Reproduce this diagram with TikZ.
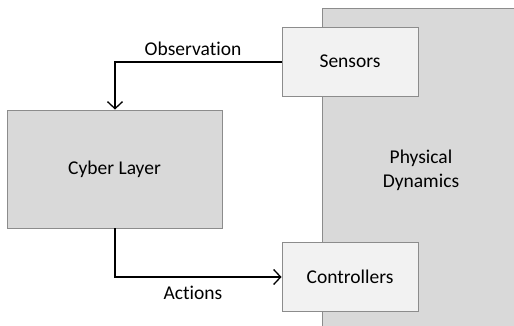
\documentclass[tikz,border=0pt]{standalone}
\usepackage{fontspec}
\setmainfont[Ligatures=NoCommon]{Carlito}
\usetikzlibrary{arrows.meta}
\definecolor{darkfill}{HTML}{D9D9D9}
\definecolor{lightfill}{HTML}{F2F2F2}
\definecolor{edge}{HTML}{8C8C8C}
\begin{document}
\begin{tikzpicture}[x=1pt,y=-1pt,
  txt/.style={font=\fontsize{19.5}{24}\selectfont},
  box/.style={draw=edge,line width=0.9pt,inner sep=0pt,txt,align=center},
  conn/.style={line width=1.3pt,-{Straight Barb[length=7pt,width=15pt,line width=1.3pt]}},
  lbl/.style={txt,fill=white,inner sep=1pt}]
\useasboundingbox (0,0) rectangle (514,326);
\node[box,fill=darkfill,minimum width=192pt,minimum height=320pt,anchor=north west] (phys) at (322,8) {};
\node[txt,align=center] (physlbl) at (421,170) {Physical\\Dynamics};
\node[box,fill=lightfill,minimum width=136pt,minimum height=69pt] (sens) at (350,61.5) {Sensors};
\node[box,fill=lightfill,minimum width=136pt,minimum height=69pt] (ctrl) at (350,276.5) {Controllers};
\node[box,fill=darkfill,minimum width=215pt,minimum height=118pt] (cyber) at (114.5,169) {Cyber Layer};
\coordinate (c1) at (115,62);
\coordinate (c2) at (115,277);
\draw[conn] (sens.west |- 0,62) -- (c1) -- (cyber.north -| c1);
\node[lbl] (obs) at (193,49) {Observation};
\draw[conn] (cyber.south -| c2) -- (c2) -- (ctrl.west |- c2);
\node[lbl] (act) at (193,293) {Actions};
\end{tikzpicture}
\end{document}
